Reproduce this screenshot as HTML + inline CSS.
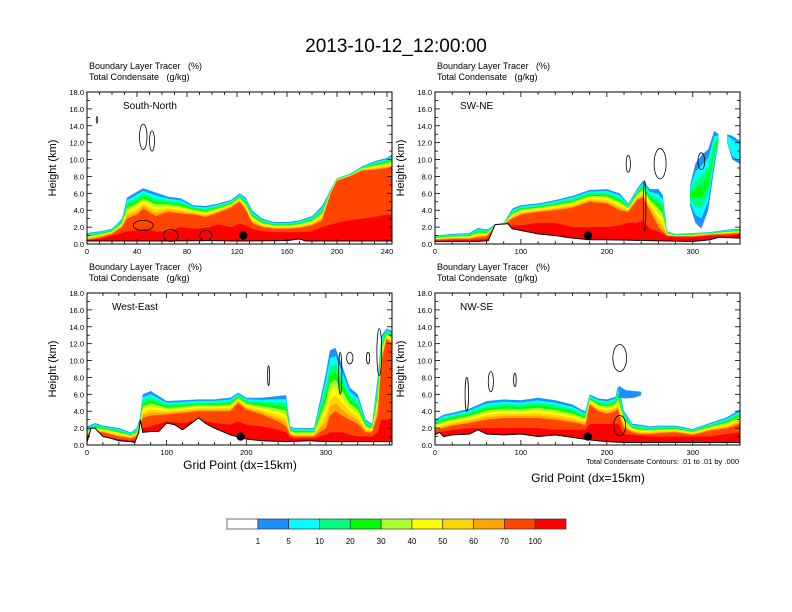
<!DOCTYPE html>
<html><head><meta charset="utf-8"><style>
html,body{margin:0;padding:0;background:#fff;width:792px;height:612px;overflow:hidden}
text{font-family:"Liberation Sans",sans-serif;fill:#000;white-space:pre}
</style></head><body>
<svg id="fig" width="792" height="612" viewBox="0 0 792 612" xmlns="http://www.w3.org/2000/svg" xml:space="preserve">
<text x="396" y="52" font-size="19" text-anchor="middle">2013-10-12_12:00:00</text>
</svg>
<script>
// ---- data ----
const levelLabels = ["1","5","10","20","30","40","50","60","70","100"];
const levelColors = ["#ffffff","#1e8fff","#00ffff","#00ff7f","#00ff00","#adff2f","#ffff00","#ffd700","#ffa500","#ff4500","#ff0000"];

const p1Names = "South-North";
const p1X = [0,10,20,28,32,40,45,55,65,75,85,95,105,115,122,127,132,140,150,160,170,180,188,195,200,210,220,230,240,244];
const p1Top = [1.3,1.5,1.8,3,5.5,6.2,6.6,6.1,5.6,5.4,4.6,4.5,4.8,5.2,6.0,5.5,4.0,3.0,2.6,2.6,2.8,3.3,4.5,6.5,7.8,8.3,9.2,9.8,10.2,10.6];
const p1Core = [0.5,0.8,1.2,2.0,3.0,3.5,4.2,3.3,3.8,3.6,3.5,3.2,3.7,4.3,5.0,4.0,2.5,2.0,1.8,1.8,1.9,2.2,2.8,6.0,7.5,8.0,8.7,8.8,9.0,9.0];
const p1Red = [0.5,0.6,1.0,1.3,1.5,1.6,1.8,1.5,1.5,2.0,1.8,1.9,2.3,2.0,2.4,2.2,1.8,1.5,1.4,1.4,1.4,1.5,2.0,2.3,2.5,2.8,3.0,3.2,3.5,3.5];
const p1TX = [0,60,100,120,160,170,175,244];
const p1TH = [0.35,0.35,0.4,0.35,0.4,0.6,0.35,0.35];

const p2X = [0,20,40,50,60,70,80,90,100,120,140,160,180,200,215,225,235,242,250,260,265,270,280,300,320,340,355];
const p2Top = [1.0,1.2,1.3,1.9,1.7,2.3,2.5,4.2,4.6,4.8,5.2,5.7,6.4,6.5,6.0,4.8,6.5,7.5,6.5,6.5,5.8,1.5,1.2,1.3,1.4,1.7,1.8];
const p2Core = [0.5,0.6,0.6,0.8,0.9,2.0,2.3,3.0,3.5,3.8,4.0,4.3,5.0,4.8,4.0,3.8,5.2,5.5,4.0,2.0,1.5,1.0,0.9,0.9,1.1,1.2,1.3];
const p2Red = [0.4,0.5,0.5,0.5,0.6,1.5,1.5,2.2,2.2,2.5,2.5,2.0,2.0,2.0,2.2,2.5,2.5,2.8,1.8,1.5,1.2,0.9,0.8,0.8,1.0,1.0,1.2];
const p2TX = [0,50,62,70,85,90,100,120,140,160,180,200,250,300,320,330,355];
const p2TH = [0.3,0.3,0.4,2.3,2.4,1.8,1.6,1.2,1.0,0.7,0.5,0.5,0.4,0.3,0.5,0.8,0.7];
const p2BlobX = [297,303,310,318,325,330];
const p2BlobBase = [4.5,2.5,1.8,4,9,12];
const p2BlobTop = [7,9.5,10.5,11.2,13.4,13];
const p2Blob2X = [340,346,355];
const p2Blob2Base = [12,10,9.5];
const p2Blob2Top = [13,12.8,12.2];

const p3X = [0,10,20,40,55,62,66,70,80,100,120,140,160,180,190,200,220,240,250,255,260,270,285,292,300,305,312,320,330,340,350,358,365,370,376,383];
const p3Top = [2.2,2.6,2.3,2.0,1.5,2.0,3.0,6.0,6.4,5.2,5.3,5.4,5.4,5.6,6.2,5.6,5.6,5.8,5.9,2.2,2.0,2.0,2.0,5.0,8.5,11.2,11.5,9.5,6.8,6.0,3.0,2.5,8.0,13.0,13.8,13.5];
const p3Core = [1.2,1.5,1.5,1.0,0.8,1.0,2.0,3.2,3.5,3.6,3.8,4.0,4.0,4.0,5.0,4.2,3.6,2.8,2.2,1.2,1.0,1.0,1.0,1.5,2.0,3.5,4.0,3.5,3.0,2.5,1.5,1.5,3.5,10.0,12.5,12.0];
const p3Red = [0.8,1.0,1.0,0.7,0.5,0.6,1.5,2.0,2.2,2.8,2.6,3.0,2.6,2.4,2.8,2.4,2.2,1.8,1.5,0.9,0.8,0.8,0.8,1.0,1.2,1.5,1.5,1.5,1.2,1.0,1.0,1.0,1.5,3.0,3.0,3.0];
const p3TX = [0,5,10,20,30,40,55,60,65,67,70,80,90,100,110,120,130,140,150,160,180,200,220,250,280,300,383];
const p3TH = [0.3,2.0,2.0,1.0,0.8,0.5,0.4,0.3,1.5,3.0,1.5,1.6,1.6,2.6,2.4,1.8,2.5,3.2,2.5,2.0,1.2,0.7,0.5,0.4,0.5,0.4,0.4];

const p4X = [0,10,20,40,60,80,100,120,140,160,170,175,180,190,200,210,213,216,220,230,240,250,260,280,300,320,340,355];
const p4Top = [3.0,3.6,3.8,4.3,5.2,5.4,5.3,5.6,5.3,4.8,4.2,4.0,6.0,5.5,5.4,5.7,7.0,6.0,4.0,2.5,2.4,2.2,2.3,2.3,1.9,2.6,3.3,4.2];
const p4Core = [1.8,2.0,2.3,2.6,3.0,3.2,3.2,3.2,3.0,2.7,2.5,2.3,4.8,4.0,3.7,4.0,4.2,3.0,2.0,1.5,1.3,1.3,1.4,1.5,1.2,1.7,2.0,2.5];
const p4Red = [1.5,1.6,1.8,2.0,2.0,2.0,2.0,2.0,1.8,1.8,1.8,1.8,2.5,2.5,2.5,2.5,2.5,2.0,1.3,1.2,1.1,1.0,1.0,1.0,1.0,1.0,1.3,1.5];
const p4TX = [0,5,10,20,40,50,60,80,100,120,140,160,180,200,220,355];
const p4TH = [1.2,1.5,1.0,1.2,1.3,1.8,1.3,1.2,1.3,1.0,1.2,0.9,0.6,0.4,0.3,0.3];
const p4BlobX = [214,222,232,240];
const p4BlobBase = [5.6,5.5,5.6,5.9];
const p4BlobTop = [7.0,6.5,6.4,6.3];

const p1Contours = [[8,14.7,0.6,0.4],[45,12.7,3,1.5],[52,12.2,2,1.2],[45,2.2,8,0.6],[67,1.0,6,0.7],[95,1.0,5,0.6]];
const p2Contours = [[225,9.5,2.5,1],[262,9.5,7,1.8],[310,9.8,4,1],[244,4.5,1.5,3]];
const p3Contours = [[228,8.2,1.2,1.2],[330,10.3,4,0.7],[353,10.3,2,0.7],[318,8.5,2,2.5],[367,11,3,2.8]];
const p4Contours = [[215,10.3,8,1.6],[65,7.5,3,1.2],[93,7.7,1.5,0.8],[37,6,2,2],[215,2.3,7,1.2]];

const dotX = [125,178,193,178];
const dotY = [1.0,1.0,1.0,1.0];

// ---- drawing ----
const NS="http://www.w3.org/2000/svg";
const svg=document.getElementById('fig');
function mk(tag,attrs,parent){const e=document.createElementNS(NS,tag);for(const k in attrs)e.setAttribute(k,attrs[k]);(parent||svg).appendChild(e);return e;}
function interp(xs,ys,x){if(x<=xs[0])return ys[0];for(let i=1;i<xs.length;i++){if(x<=xs[i]){const t=(x-xs[i-1])/(xs[i]-xs[i-1]);return ys[i-1]+t*(ys[i]-ys[i-1]);}}return ys[ys.length-1];}

function panel(o){
  const g=mk('g',{});
  
  
  const L=o.x0,R=o.x0+305,T=o.y0,B=o.y0+152;
  const sx=v=>L+(v/o.xmax)*(R-L);
  const sy=v=>B-(v/18)*(B-T);
  const clip=mk('clipPath',{id:'c'+o.name},g);mk('rect',{x:L,y:T,width:R-L,height:B-T},clip);
  const pg=mk('g',{'clip-path':'url(#c'+o.name+')'},g);
  const terr=x=>interp(o.tx,o.th,x);
  function band(top,color,nm){
    let pts=[];
    const n=Math.ceil(o.xmax);
    for(let x=0;x<=n;x++){pts.push(sx(x)+','+sy(Math.max(interp(o.cx,top,x),terr(x))));}
    pts.push(sx(n)+','+sy(0));pts.push(sx(0)+','+sy(0));
    const p=mk('polygon',{points:pts.join(' '),fill:color},pg);
    
    
  }
  for(let k=0;k<8;k++){
    const lvl=o.top.map((t,i)=>t-(t-o.core[i])*k/8);
    band(lvl,levelColors[k+1],o.name+'-band-'+k);
  }
  band(o.core,levelColors[9],o.name+'-band-orangered');
  band(o.red,levelColors[10],o.name+'-band-red');
  (o.blobs||[]).forEach((b,bi)=>{
    const colors=[levelColors[1],levelColors[2],levelColors[3],levelColors[4]].slice(0,b.levels||4);
    colors.forEach((c,k)=>{
      const f=k*0.14;
      const up=[],dn=[];
      b.x.forEach((x,i)=>{const h=b.top[i]-b.base[i];up.push(sx(x)+','+sy(b.top[i]-h*f));dn.unshift(sx(x)+','+sy(b.base[i]+h*f));});
      const p=mk('polygon',{points:up.concat(dn).join(' '),fill:c},pg);
      
      
    });
  });
  // terrain
  let tp=[];const n=Math.ceil(o.xmax);
  for(let x=0;x<=n;x++)tp.push(sx(x)+','+sy(terr(x)));
  const tf=mk('polygon',{points:tp.join(' ')+' '+sx(n)+','+sy(0)+' '+sx(0)+','+sy(0),fill:'#fff'},pg);
  
  
  mk('polyline',{points:tp.join(' '),fill:'none',stroke:'#000','stroke-width':1},pg);
  // contours
  o.contours.forEach(c=>{
    const e=mk('ellipse',{cx:sx(c[0]),cy:sy(c[1]),rx:(c[2]/o.xmax)*(R-L),ry:(c[3]/18)*(B-T),fill:'none',stroke:'#000','stroke-width':0.8},pg);
    
    
  });
  const d=mk('circle',{cx:sx(o.dot[0]),cy:sy(o.dot[1]),r:4.2,fill:'#000'},pg);
  
  
  // frame
  mk('rect',{x:L,y:T,width:R-L,height:B-T,fill:'none',stroke:'#000','stroke-width':1},g);
  // ticks
  for(let v=0;v<=18;v+=1){
    const y=sy(v),len=v%2===0?5:3;
    mk('line',{x1:L,x2:L+len,y1:y,y2:y,stroke:'#000','stroke-width':0.8},g);
    mk('line',{x1:R,x2:R-len,y1:y,y2:y,stroke:'#000','stroke-width':0.8},g);
    if(v%2===0){const t=mk('text',{x:L-3,y:y+3,'font-size':7.5,'text-anchor':'end'},g);t.textContent=v.toFixed(1);
      }
  }
  for(let v=0;v<=o.xmax;v+=o.minor){
    const x=sx(v),maj=Math.abs(v/o.major-Math.round(v/o.major))<1e-6,len=maj?5:3;
    mk('line',{x1:x,x2:x,y1:B,y2:B-len,stroke:'#000','stroke-width':0.8},g);
    mk('line',{x1:x,x2:x,y1:T,y2:T+len,stroke:'#000','stroke-width':0.8},g);
    if(maj){const t=mk('text',{x:x,y:B+10,'font-size':7.5,'text-anchor':'middle'},g);t.textContent=v;
      }
  }
  const yl=mk('text',{x:0,y:0,'font-size':11,'text-anchor':'middle',transform:'translate('+(L-31)+','+((T+B)/2)+') rotate(-90)'},g);
  yl.textContent='Height (km)';
  const h1=mk('text',{x:L+2,y:T-23,'font-size':9},g);h1.textContent='Boundary Layer Tracer   (%)';
  
  const h2=mk('text',{x:L+2,y:T-12,'font-size':9},g);h2.textContent='Total Condensate   (g/kg)';
  
  const lab=mk('text',{x:L+o.labOff,y:T+17,'font-size':10},g);lab.textContent=o.title;
  
}

panel({name:'south-north',title:p1Names,x0:87,y0:92,xmax:244,major:40,minor:10,labOff:36,cx:p1X,top:p1Top,core:p1Core,red:p1Red,tx:p1TX,th:p1TH,contours:p1Contours,dot:[dotX[0],dotY[0]]});
panel({name:'sw-ne',title:'SW-NE',x0:435,y0:92,xmax:355,major:100,minor:20,labOff:25,cx:p2X,top:p2Top,core:p2Core,red:p2Red,tx:p2TX,th:p2TH,contours:p2Contours,dot:[dotX[1],dotY[1]],
  blobs:[{x:p2BlobX,base:p2BlobBase,top:p2BlobTop},{x:p2Blob2X,base:p2Blob2Base,top:p2Blob2Top,levels:2}]});
panel({name:'west-east',title:'West-East',x0:87,y0:293,xmax:383,major:100,minor:20,labOff:25,cx:p3X,top:p3Top,core:p3Core,red:p3Red,tx:p3TX,th:p3TH,contours:p3Contours,dot:[dotX[2],dotY[2]]});
panel({name:'nw-se',title:'NW-SE',x0:435,y0:293,xmax:355,major:100,minor:20,labOff:25,cx:p4X,top:p4Top,core:p4Core,red:p4Red,tx:p4TX,th:p4TH,contours:p4Contours,dot:[dotX[3],dotY[3]],
  blobs:[{x:p4BlobX,base:p4BlobBase,top:p4BlobTop,levels:1}]});

let t=mk('text',{x:240,y:469,'font-size':12,'text-anchor':'middle'});t.textContent='Grid Point (dx=15km)';

t=mk('text',{x:588,y:482,'font-size':12,'text-anchor':'middle'});t.textContent='Grid Point (dx=15km)';

t=mk('text',{x:739,y:464,'font-size':7.5,'text-anchor':'end'});t.textContent='Total Condensate Contours: .01 to .01 by .000';


// colorbar
const cbx=227,cbw=339/11;
levelColors.forEach((c,i)=>{
  const r=mk('rect',{x:cbx+i*cbw,y:519,width:cbw,height:10,fill:c,stroke:'#333','stroke-width':0.7});
  
  
});
levelLabels.forEach((l,i)=>{
  const tt=mk('text',{x:cbx+(i+1)*cbw,y:544,'font-size':8,'text-anchor':'middle'});tt.textContent=l;
  
  
});
</script>
</body></html>
